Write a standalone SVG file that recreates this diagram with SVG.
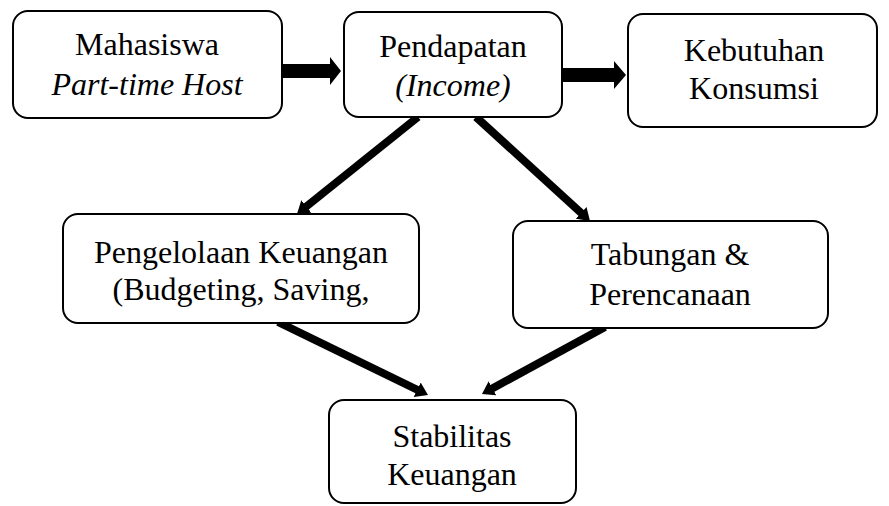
<svg xmlns="http://www.w3.org/2000/svg" width="889" height="506" viewBox="0 0 889 506">
<style>
.box{fill:#fff;stroke:#000;stroke-width:2}
.c{stroke:#000;stroke-width:8;fill:none;marker-end:url(#ah)}
.blk{fill:#000}
</style>
<defs>
<marker id="ah" viewBox="0 0 12 16" refX="4" refY="8" markerWidth="12" markerHeight="16" markerUnits="userSpaceOnUse" orient="auto">
<path d="M0,0 L12,8 L0,16 z" fill="#000"/>
</marker>
</defs>
<rect width="889" height="506" fill="#fff"/>
<g id="connectors">
<polygon class="blk" points="281,64 330,64 330,57 341,71 330,85 330,78 281,78"/>
<polygon class="blk" points="562,68 614,68 614,61 626,75 614,89 614,82 562,82"/>
<line class="c" x1="418" y1="117" x2="303.2" y2="209"/>
<line class="c" x1="476" y1="117" x2="584.1" y2="215.6"/>
<line class="c" x1="278" y1="322" x2="420.8" y2="391.5"/>
<line class="c" x1="605" y1="327" x2="489" y2="390.2"/>
</g>
<g id="mahasiswa">
<rect class="box" x="13" y="11" width="269" height="107" rx="15"/>
<text x="147" y="55" font-size="32" text-anchor="middle" style="font-family:'Liberation Serif'">Mahasiswa</text>
<text x="147" y="95" font-size="32" text-anchor="middle" font-style="italic" style="font-family:'Liberation Serif'">Part-time Host</text>
</g>
<g id="pendapatan">
<rect class="box" x="344" y="12" width="218" height="105" rx="15"/>
<text x="453" y="57" font-size="32" text-anchor="middle" style="font-family:'Liberation Serif'">Pendapatan</text>
<text x="453" y="96" font-size="32" text-anchor="middle" font-style="italic" style="font-family:'Liberation Serif'">(Income)</text>
</g>
<g id="kebutuhan">
<rect class="box" x="628" y="14" width="249" height="113" rx="15"/>
<text x="754" y="61" font-size="32" text-anchor="middle" style="font-family:'Liberation Serif'">Kebutuhan</text>
<text x="754" y="99" font-size="32" text-anchor="middle" style="font-family:'Liberation Serif'">Konsumsi</text>
</g>
<g id="pengelolaan">
<rect class="box" x="63" y="214" width="356" height="109" rx="15"/>
<text x="241" y="263" font-size="32" text-anchor="middle" style="font-family:'Liberation Serif'">Pengelolaan Keuangan</text>
<text x="241" y="300" font-size="32" text-anchor="middle" style="font-family:'Liberation Serif'">(Budgeting, Saving,</text>
</g>
<g id="tabungan">
<rect class="box" x="513" y="221" width="315" height="107" rx="15"/>
<text x="670" y="265" font-size="32" text-anchor="middle" style="font-family:'Liberation Serif'">Tabungan &amp;</text>
<text x="670" y="305" font-size="32" text-anchor="middle" style="font-family:'Liberation Serif'">Perencanaan</text>
</g>
<g id="stabilitas">
<rect class="box" x="329" y="400" width="247" height="103" rx="15"/>
<text x="452" y="447" font-size="32" text-anchor="middle" style="font-family:'Liberation Serif'">Stabilitas</text>
<text x="452" y="485" font-size="32" text-anchor="middle" style="font-family:'Liberation Serif'">Keuangan</text>
</g>
</svg>
